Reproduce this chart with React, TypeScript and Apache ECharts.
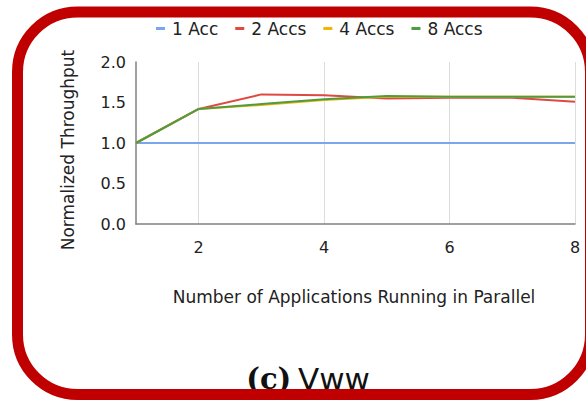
import React, { useEffect, useRef } from "react";
import * as echarts from "echarts";

const categories = ["1", "2", "3", "4", "5", "6", "7", "8"];
const oneAcc = [1.0, 1.0, 1.0, 1.0, 1.0, 1.0, 1.0, 1.0];
const twoAccs = [1.0, 1.42, 1.6, 1.59, 1.55, 1.56, 1.56, 1.51];
const fourAccs = [1.0, 1.42, 1.47, 1.53, 1.57, 1.57, 1.57, 1.57];
const eightAccs = [1.0, 1.42, 1.48, 1.54, 1.58, 1.57, 1.57, 1.57];
const seriesNames = ["1 Acc", "2 Accs", "4 Accs", "8 Accs"];
const seriesColors = ["#7aa7ec", "#de4a40", "#f4b400", "#4e9b45"];
const yTicks = [0, 0.5, 1.0, 1.5, 2.0];

const FONT = "DejaVu Sans";

export default function App() {
  const ref = useRef<HTMLDivElement>(null);
  useEffect(() => {
    if (!ref.current) return;
    const chart = echarts.init(ref.current, null, { renderer: "svg" });
    const data = [oneAcc, twoAccs, fourAccs, eightAccs];
    chart.setOption({
      animation: false,
      backgroundColor: "#ffffff",
      legend: {
        top: 15,
        left: 151,
        itemWidth: 9,
        itemHeight: 3,
        itemGap: 17,
        icon: "rect",
        data: seriesNames,
        textStyle: { fontFamily: FONT, fontSize: 17, color: "#222", padding: [0, 0, 0, 2] },
      },
      grid: { left: 136, right: 11, top: 62, bottom: 178, containLabel: false },
      xAxis: {
        type: "category",
        data: categories,
        boundaryGap: false,
        axisTick: { show: false },
        axisLine: { show: true, lineStyle: { color: "#808080", width: 1.5 } },
        axisLabel: {
          interval: (i: number, v: string) => Number(v) % 2 === 0,
          fontFamily: FONT,
          fontSize: 16,
          color: "#222",
          margin: 15,
        },
        splitLine: {
          show: true,
          interval: (i: number, v: string) => Number(v) % 2 === 0,
          lineStyle: { color: "#dcdcdc", width: 1 },
        },
      },
      yAxis: {
        type: "value",
        min: yTicks[0],
        max: yTicks[yTicks.length - 1],
        interval: 0.5,
        axisTick: { show: false },
        axisLine: { show: true, lineStyle: { color: "#808080", width: 1.5 } },
        splitLine: { show: false },
        axisLabel: {
          formatter: (v: number) => v.toFixed(1),
          fontFamily: FONT,
          fontSize: 16,
          color: "#222",
          margin: 10,
        },
      },
      series: seriesNames.map((name, i) => ({
        name,
        type: "line",
        data: data[i],
        showSymbol: false,
        symbol: "none",
        color: seriesColors[i],
        lineStyle: { width: 2, color: seriesColors[i] },
        z: 2 + i,
      })),
      graphic: [
        {
          type: "text",
          rotation: Math.PI / 2,
          x: 68,
          y: 150,
          style: {
            text: "Normalized Throughput",
            fontFamily: FONT,
            fontSize: 17,
            fill: "#222",
            align: "center",
            verticalAlign: "middle",
          },
        },
        {
          type: "text",
          x: 354,
          y: 297,
          style: {
            text: "Number of Applications Running in Parallel",
            fontFamily: FONT,
            fontSize: 17,
            fill: "#222",
            align: "center",
            verticalAlign: "middle",
          },
        },
        {
          type: "text",
          x: 308,
          y: 379,
          z: 10,
          style: {
            text: "{a|(c)}  {b|Vww}",
            align: "center",
            verticalAlign: "middle",
            rich: {
              a: { fontFamily: "DejaVu Serif", fontWeight: "bold", fontSize: 29, fill: "#111" },
              b: { fontFamily: "DejaVu Sans", fontSize: 31, fill: "#111" },
            },
          },
        },
        {
          type: "rect",
          z: 100,
          shape: { x: 17.5, y: 12, width: 573, height: 382.5, r: 60 },
          style: { fill: "none", stroke: "#c00000", lineWidth: 11 },
        },
      ],
    });
    return () => chart.dispose();
  }, []);
  return (
    <div
      ref={ref}
      style={{ position: "fixed", left: 0, top: 0, width: 586, height: 402, background: "#fff" }}
    />
  );
}
